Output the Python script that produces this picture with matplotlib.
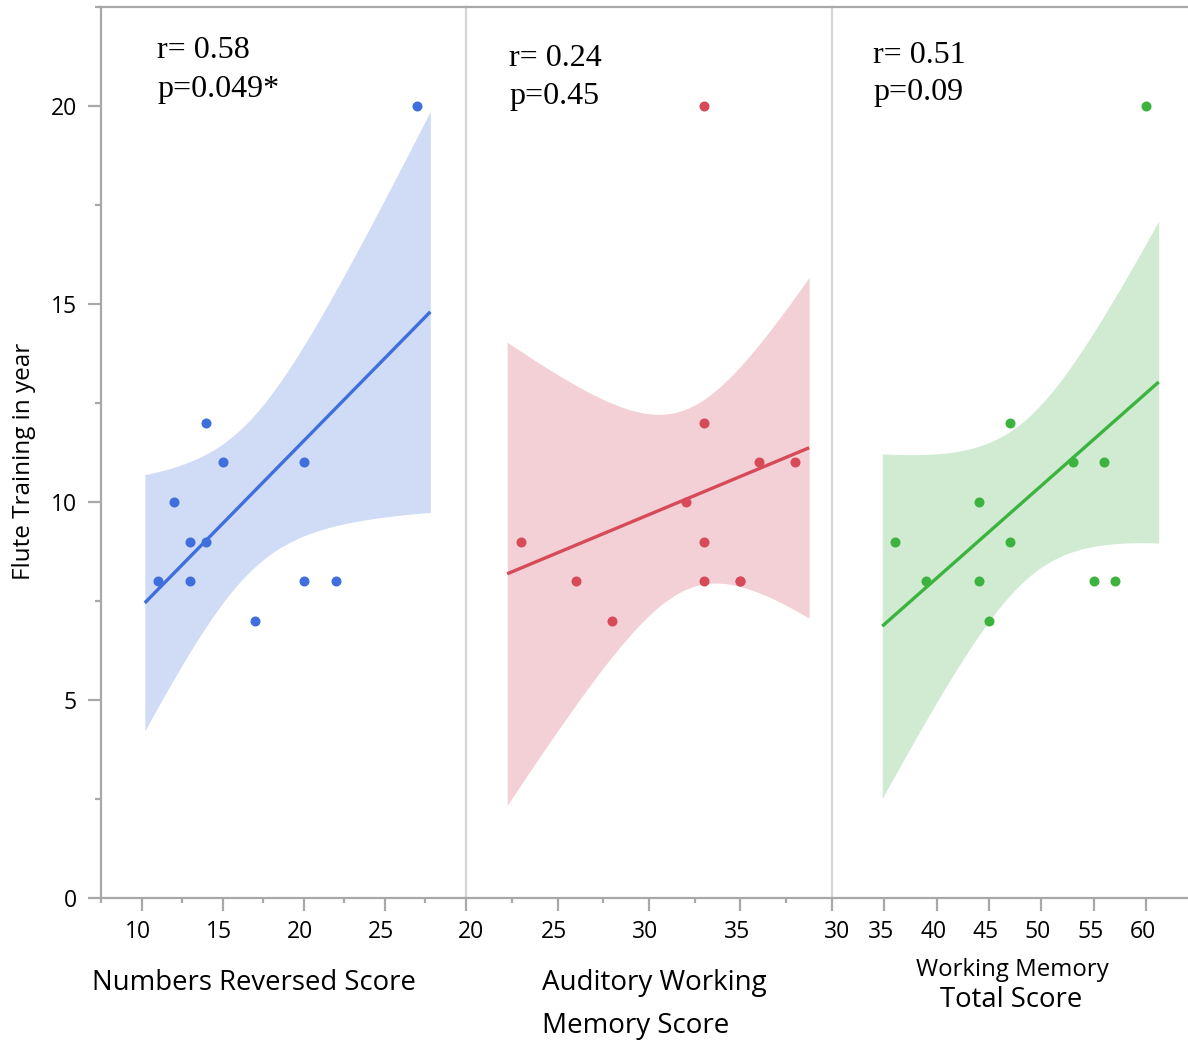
import numpy as np
import matplotlib
matplotlib.use("Agg")
import matplotlib.pyplot as plt
from matplotlib.ticker import MultipleLocator, FixedLocator
from matplotlib.transforms import ScaledTranslation
import math

# ---------------- data ----------------
nr_score = [11, 12, 13, 13, 14, 14, 15, 17, 20, 20, 22, 27]
nr_years = [8, 10, 9, 8, 12, 9, 11, 7, 11, 8, 8, 20]

awm_score = [23, 26, 28, 32, 33, 33, 33, 33, 35, 35, 36, 38]
awm_years = [9, 8, 7, 10, 20, 12, 9, 8, 8, 8, 11, 11]

wm_score = [36, 39, 44, 44, 45, 47, 47, 53, 55, 56, 57, 60]
wm_years = [9, 8, 10, 8, 7, 12, 9, 11, 8, 11, 8, 20]

stats_r = ["r= 0.58", "r= 0.24", "r= 0.51"]
stats_p = ["p=0.049*", "p=0.45", "p=0.09"]

x_limits = [(7.5, 30), (20, 40), (30, 64)]
x_ticks = [[10, 15, 20, 25], [20, 25, 30, 35], [30, 35, 40, 45, 50, 55, 60]]
y_ticks = [0, 5, 10, 15, 20]

point_colors = ["#3f6fdc", "#d64a59", "#3db33f"]
band_colors = ["#d0dcf6", "#f3d0d6", "#d0ebd2"]

# -------------- helpers ---------------
def t_ppf(q, df):
    xs = np.linspace(0, 20, 200001)
    c = math.gamma((df + 1) / 2) / (math.sqrt(df * math.pi) * math.gamma(df / 2))
    pdf = c * (1 + xs ** 2 / df) ** (-(df + 1) / 2)
    cdf = 0.5 + np.concatenate([[0], np.cumsum((pdf[1:] + pdf[:-1]) / 2 * np.diff(xs))])
    return float(np.interp(q, cdf, xs))


def fit_band(x, y):
    x = np.asarray(x, float)
    y = np.asarray(y, float)
    n = len(x)
    xb, yb = x.mean(), y.mean()
    sxx = ((x - xb) ** 2).sum()
    b = ((x - xb) * (y - yb)).sum() / sxx
    a = yb - b * xb
    resid = y - (a + b * x)
    s = math.sqrt((resid ** 2).sum() / (n - 2))
    span = x.max() - x.min()
    xg = np.linspace(x.min() - 0.05 * span, x.max() + 0.05 * span, 200)
    yg = a + b * xg
    se = s * np.sqrt(1 / n + (xg - xb) ** 2 / sxx)
    t = t_ppf(0.975, n - 2)
    return xg, yg, yg - t * se, yg + t * se


# -------------- figure ---------------
W, H = 1188, 1040
fig = plt.figure(figsize=(W / 100, H / 100), dpi=100)

tick_font = "Open Sans"
edges = [101, 466, 832, 1188]
top_px, bot_px = 7, 898

panels = [(nr_score, nr_years), (awm_score, awm_years), (wm_score, wm_years)]
for i, (xs, ys) in enumerate(panels):
    l = edges[i] / W
    w = (edges[i + 1] - edges[i]) / W
    b = 1 - bot_px / H
    h = (bot_px - top_px) / H
    ax = fig.add_axes([l, b, w, h])

    xg, yg, lo, hi = fit_band(xs, ys)
    ax.fill_between(xg, lo, hi, color=band_colors[i], lw=0, zorder=1)
    ax.plot(xg, yg, color=point_colors[i], lw=2.4, zorder=2, solid_capstyle="butt")
    ax.scatter(xs, ys, s=52, color=point_colors[i], lw=0, zorder=3)

    ax.set_xlim(*x_limits[i])
    ax.set_ylim(0, 22.5)
    ax.set_facecolor("none")

    ax.spines["right"].set_visible(False)
    for sp in ["top", "bottom"]:
        ax.spines[sp].set_color("#a8a8a8")
        ax.spines[sp].set_linewidth(1.6)

    ax.xaxis.set_major_locator(FixedLocator(x_ticks[i]))
    if i == 0:
        ax.xaxis.set_minor_locator(FixedLocator([7.5, 12.5, 17.5, 22.5, 27.5]))
    elif i == 1:
        ax.xaxis.set_minor_locator(FixedLocator([22.5, 27.5, 32.5, 37.5]))
    ax.tick_params(axis="x", which="major", length=9.5, width=1.6, color="#a8a8a8",
                   pad=6, labelsize=16.5, labelcolor="black")
    ax.tick_params(axis="x", which="minor", length=3.5, width=1.6, color="#a8a8a8")
    for k, lab in enumerate(ax.get_xticklabels()):
        lab.set_fontfamily(tick_font)
        dx = 5 if (k == 0 and i > 0) else -3.5
        lab.set_transform(lab.get_transform() + ScaledTranslation(dx / 100, 0, fig.dpi_scale_trans))

    if i == 0:
        ax.spines["left"].set_color("#a8a8a8")
        ax.spines["left"].set_linewidth(1.6)
        ax.yaxis.set_major_locator(FixedLocator(y_ticks))
        ax.yaxis.set_minor_locator(MultipleLocator(2.5))
        ax.tick_params(axis="y", which="major", length=9.5, width=1.6, color="#a8a8a8",
                       pad=8, labelsize=16.5, labelcolor="black")
        ax.tick_params(axis="y", which="minor", length=4.5, width=1.6, color="#a8a8a8")
        for lab in ax.get_yticklabels():
            lab.set_fontfamily(tick_font)
    else:
        ax.spines["left"].set_color("#d6d6d6")
        ax.spines["left"].set_linewidth(1.6)
        ax.tick_params(axis="y", which="both", left=False, labelleft=False)

# stats text (serif)
stat_pos = [(157, 58, 96.7), (509, 66, 104), (873, 62.7, 100)]
for (px, y1, y2), r, p in zip(stat_pos, stats_r, stats_p):
    fig.text(px / W, 1 - y1 / H, r, family="Liberation Serif", fontsize=23,
             va="baseline", ha="left")
    fig.text(px / W, 1 - y2 / H, p, family="Liberation Serif", fontsize=23,
             va="baseline", ha="left")

# axis labels
fig.text(254 / W, 1 - 990 / H, "Numbers Reversed Score", family=tick_font,
         fontsize=19.8, ha="center", va="baseline")
fig.text(542 / W, 1 - 990 / H, "Auditory Working", family=tick_font,
         fontsize=20, ha="left", va="baseline")
fig.text(542 / W, 1 - 1032.7 / H, "Memory Score", family=tick_font,
         fontsize=20, ha="left", va="baseline")
fig.text(1012 / W, 1 - 976 / H, "Working Memory", family=tick_font,
         fontsize=17.3, ha="center", va="baseline")
fig.text(1011 / W, 1 - 1007.3 / H, "Total Score", family=tick_font,
         fontsize=19.8, ha="center", va="baseline")
fig.text(24 / W, 1 - 461.5 / H, "Flute Training in year", family=tick_font,
         fontsize=17.5, rotation=90, ha="center", va="center")

fig.savefig("out.png", dpi=100)
